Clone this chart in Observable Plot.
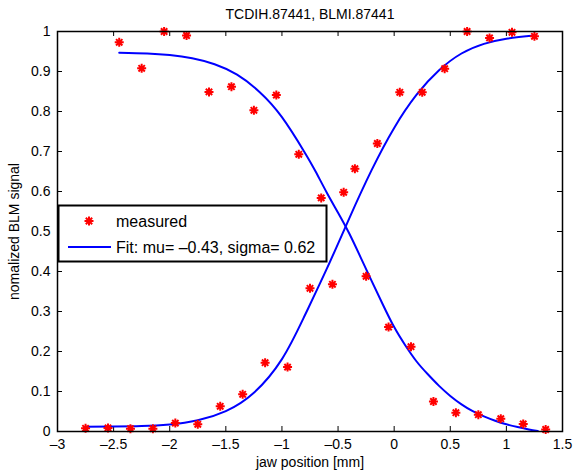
<!DOCTYPE html>
<html>
<head>
<meta charset="utf-8">
<script src="https://cdn.jsdelivr.net/npm/d3@7"></script>
<script src="https://cdn.jsdelivr.net/npm/@observablehq/plot@0.6"></script>
<style>
  html, body { margin: 0; padding: 0; background: #fff; }
  svg { font-family: "Liberation Sans", Arial, sans-serif; }
</style>
</head>
<body>
<div id="chart"></div>
<script>
// ---- data ----
const titleText = "TCDIH.87441, BLMI.87441";
const xLabel = "jaw position [mm]";
const yLabel = "nomalized BLM signal";
const legendMeasured = "measured";
const legendFit = "Fit: mu= \u20130.43, sigma= 0.62";

const xTicks = [-3, -2.5, -2, -1.5, -1, -0.5, 0, 0.5, 1, 1.5];
const yTicks = [0, 0.1, 0.2, 0.3, 0.4, 0.5, 0.6, 0.7, 0.8, 0.9, 1];

// measured, falling series
const downX = [-2.45, -2.25, -2.05, -1.85, -1.65, -1.45, -1.25, -1.05, -0.85, -0.65, -0.45, -0.25, -0.05, 0.15, 0.35, 0.55, 0.75, 0.95, 1.15, 1.35];
const downY = [0.973, 0.908, 1.0, 0.99, 0.849, 0.862, 0.803, 0.841, 0.693, 0.584, 0.598, 0.388, 0.261, 0.212, 0.075, 0.047, 0.042, 0.032, 0.019, 0.005];

// measured, rising series
const upX = [-2.75, -2.55, -2.35, -2.15, -1.95, -1.75, -1.55, -1.35, -1.15, -0.95, -0.75, -0.55, -0.35, -0.15, 0.05, 0.25, 0.45, 0.65, 0.85, 1.05, 1.25];
const upY = [0.008, 0.009, 0.007, 0.007, 0.021, 0.018, 0.063, 0.093, 0.172, 0.161, 0.358, 0.368, 0.657, 0.72, 0.848, 0.848, 0.907, 1.0, 0.984, 0.998, 0.988];

// fit curves
const fitDownX = [-2.45, -2.2, -2.0, -1.8, -1.6, -1.4, -1.2, -1.0, -0.8, -0.7, -0.6, -0.5, -0.4, -0.3, -0.2, -0.1, 0.0, 0.1, 0.2, 0.3, 0.4, 0.5, 0.6, 0.7, 0.8, 0.9, 1.0, 1.1, 1.2, 1.28];
const fitDownY = [0.947, 0.945, 0.941, 0.933, 0.918, 0.892, 0.849, 0.786, 0.699, 0.650, 0.597, 0.547, 0.495, 0.436, 0.376, 0.317, 0.261, 0.215, 0.175, 0.143, 0.114, 0.089, 0.068, 0.051, 0.038, 0.027, 0.018, 0.011, 0.005, 0.001];

const fitUpX = [-2.75, -2.5, -2.25, -2.0, -1.75, -1.5, -1.25, -1.0, -0.8, -0.6, -0.4, -0.2, 0.0, 0.2, 0.4, 0.6, 0.8, 1.0, 1.25];
const fitUpY = [0.012, 0.0125, 0.0135, 0.0175, 0.028, 0.051, 0.097, 0.181, 0.288, 0.407, 0.533, 0.654, 0.759, 0.842, 0.903, 0.945, 0.969, 0.982, 0.99];

// ---- build tables ----
const measured = [
  ...downX.map((x, i) => ({x, y: downY[i]})),
  ...upX.map((x, i) => ({x, y: upY[i]}))
];
const fitDown = fitDownX.map((x, i) => ({x, y: fitDownY[i]}));
const fitUp = fitUpX.map((x, i) => ({x, y: fitUpY[i]}));

const asterisk = {
  draw(ctx, size) {
    const r = Math.sqrt(size / Math.PI);
    const d = r * Math.SQRT1_2;
    ctx.moveTo(-r, 0); ctx.lineTo(r, 0);
    ctx.moveTo(0, -r); ctx.lineTo(0, r);
    ctx.moveTo(-d, -d); ctx.lineTo(d, d);
    ctx.moveTo(-d, d); ctx.lineTo(d, -d);
  }
};

const fmt = d => (d < 0 ? "\u2013" + String(-d) : String(d));

const W = 575, H = 471;
const mL = 57, mR = 13, mT = 31, mB = 40;
const frameH = H - mT - mB;
const frameW = W - mL - mR;
const tick = 5;
const FONT = "'Liberation Sans', Arial, sans-serif";

const svg = Plot.plot({
  width: W,
  height: H,
  marginLeft: mL,
  marginRight: mR,
  marginTop: mT,
  marginBottom: mB,
  style: {fontFamily: FONT, fontSize: "14px", color: "black", background: "white"},
  x: {domain: [-3, 1.5]},
  y: {domain: [0, 1]},
  marks: [
    Plot.axisX({ticks: xTicks, tickSize: 0, tickPadding: 8, tickFormat: fmt, fontSize: 14, label: null}),
    Plot.axisY({ticks: yTicks, tickSize: 0, tickPadding: 7, tickFormat: d => String(d), fontSize: 14, label: null}),
    Plot.ruleX(xTicks, {x: d => d, insetTop: frameH - tick, stroke: "black"}),
    Plot.ruleX(xTicks, {x: d => d, insetBottom: frameH - tick, stroke: "black"}),
    Plot.ruleY(yTicks, {y: d => d, insetRight: frameW - tick, stroke: "black"}),
    Plot.ruleY(yTicks, {y: d => d, insetLeft: frameW - tick, stroke: "black"}),
    Plot.line(fitDown, {x: "x", y: "y", stroke: "#0000ff", strokeWidth: 2, curve: "natural"}),
    Plot.line(fitUp, {x: "x", y: "y", stroke: "#0000ff", strokeWidth: 2, curve: "natural"}),
    Plot.dot(measured, {x: "x", y: "y", symbol: asterisk, r: 4.5, stroke: "#ff0000", strokeWidth: 2, fill: "none"}),
    Plot.frame({stroke: "black", strokeWidth: 1.5}),
    Plot.text([titleText], {frameAnchor: "top", dy: -17, textAnchor: "middle", lineAnchor: "middle", fontSize: 14, fill: "black"}),
    Plot.text([xLabel], {frameAnchor: "bottom", dy: 31, textAnchor: "middle", lineAnchor: "middle", fontSize: 14, fill: "black"}),
    Plot.text([yLabel], {frameAnchor: "left", dx: -43, rotate: -90, textAnchor: "middle", lineAnchor: "middle", fontSize: 14, fill: "black"})
  ]
});

// legend box (MATLAB-style, inside the axes)
const g = d3.select(svg).append("g")
  .attr("font-family", FONT).attr("text-anchor", "start");
g.append("rect").attr("x", 58.5).attr("y", 205.5).attr("width", 268).attr("height", 56)
  .attr("fill", "white").attr("stroke", "black").attr("stroke-width", 2);
g.append("path").attr("transform", "translate(89,221)")
  .attr("d", d3.symbol(asterisk, Math.PI * 4.5 * 4.5)())
  .attr("stroke", "#ff0000").attr("stroke-width", 2).attr("fill", "none");
g.append("text").attr("x", 116).attr("y", 221).attr("dy", "0.35em").attr("font-size", 16).attr("fill", "black").text(legendMeasured);
g.append("line").attr("x1", 68).attr("x2", 111).attr("y1", 247).attr("y2", 247)
  .attr("stroke", "#0000ff").attr("stroke-width", 2);
g.append("text").attr("x", 116).attr("y", 247).attr("dy", "0.35em").attr("font-size", 16).attr("fill", "black").text(legendFit);

document.getElementById("chart").appendChild(svg);
</script>
</body>
</html>
